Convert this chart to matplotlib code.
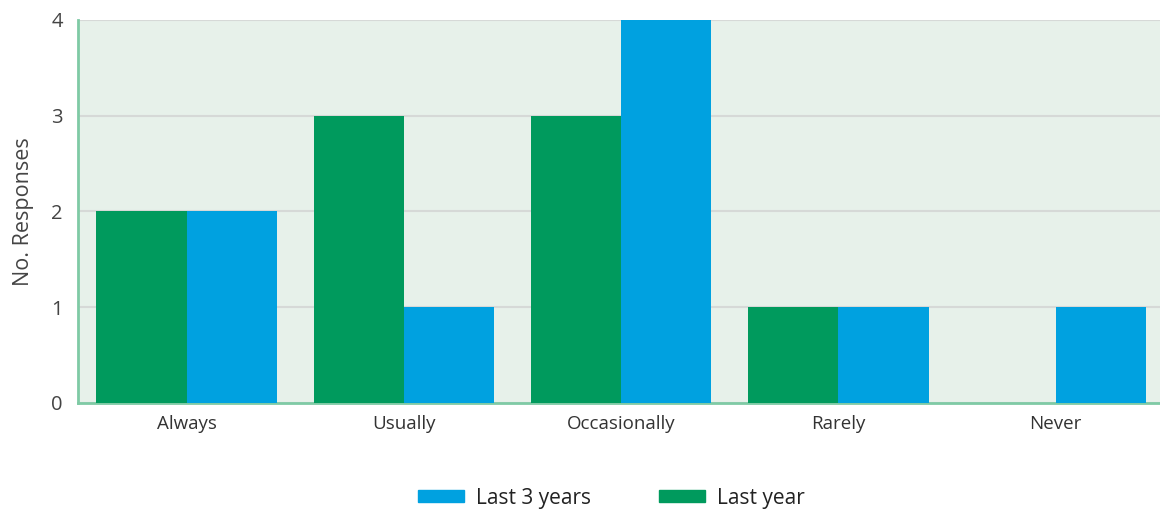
import numpy as np
import matplotlib.pyplot as plt
from matplotlib.patches import Patch

plt.rcParams['font.family'] = ['Open Sans', 'DejaVu Sans']

categories = ["Always", "Usually", "Occasionally", "Rarely", "Never"]
last_year = [2, 3, 3, 1, 0]
last_3_years = [2, 1, 4, 1, 1]

green = "#009a5d"
blue = "#00a1e0"
spine = "#7fcaa5"

fig = plt.figure(figsize=(11.6, 5.12), dpi=100)
ax = fig.add_axes([0.0672, 0.213, 0.9328, 0.748])
ax.set_facecolor("#e7f1ea")

x = np.arange(len(categories))
w = 0.415
ax.bar(x - w / 2, last_year, w, color=green, zorder=3)
ax.bar(x + w / 2, last_3_years, w, color=blue, zorder=3)

ax.set_xlim(-0.5, 4.48)
ax.set_ylim(0, 4)
ax.set_yticks([0, 1, 2, 3, 4])
ax.set_xticks(x)
ax.set_xticklabels(categories, fontsize=13.5, color="#333333")
ax.tick_params(axis="y", labelsize=14.5, labelcolor="#444444", length=0, pad=11)
ax.tick_params(axis="x", length=0, pad=9)
ax.grid(axis="y", color="#d6d9d7", linewidth=1.5, zorder=1)

for s in ["top", "right"]:
    ax.spines[s].set_visible(False)
for s in ["left", "bottom"]:
    ax.spines[s].set_color(spine)
    ax.spines[s].set_linewidth(2)

ax.set_ylabel("No. Responses", fontsize=15.5, color="#444444", labelpad=12)

handles = [Patch(color=blue, label="Last 3 years"), Patch(color=green, label="Last year")]
fig.legend(handles=handles, loc="center", bbox_to_anchor=(0.527, 0.027), ncol=2,
           frameon=False, fontsize=15, handlelength=2.2, handleheight=0.5,
           columnspacing=3.3, handletextpad=0.55, labelcolor="#222222")

fig.savefig("out.png", dpi=100)
